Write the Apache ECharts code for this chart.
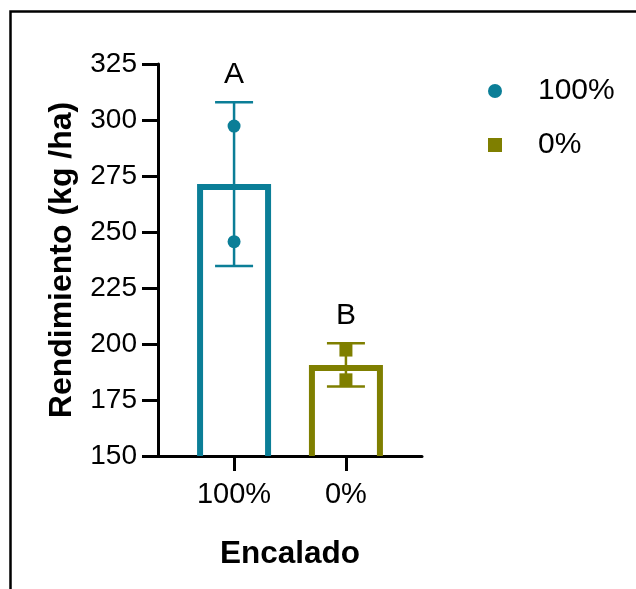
<!DOCTYPE html>
<html>
<head>
<meta charset="utf-8">
<script src="https://cdn.jsdelivr.net/npm/echarts@6/dist/echarts.min.js"></script>
<style>html,body{margin:0;padding:0;background:#fff;}#c{width:636px;height:589px;}</style>
</head>
<body>
<div id="c"></div>
<script>
// ---- data ----
const categories = ['100%', '0%'];
const means = [270.1, 189.3];
const errLow = [234.8, 181.0];
const errHigh = [307.9, 200.3];
const points100 = [297.3, 245.7];
const points0 = [197.3, 184.0];
const letters = ['A', 'B'];
const seriesNames = ['100%', '0%'];
const yMin = 150, yMax = 325, yStep = 25;

const colors = ['#0b7e97', '#7f7f00'];
const FONT = '"Liberation Sans", Arial, sans-serif';

const barData = categories.map((c, i) => [i, means[i], errLow[i], errHigh[i]]);

const chart = echarts.init(document.getElementById('c'), null, {renderer: 'canvas'});

const option = {
  animation: false,
  backgroundColor: '#fff',
  textStyle: {fontFamily: FONT},
  graphic: [{
    type: 'rect', silent: true, z: 100,
    shape: {x: 10.5, y: 11.5, width: 700, height: 700},
    style: {fill: 'none', stroke: '#000', lineWidth: 2.5}
  }],
  grid: {left: 158, right: 214, top: 64, bottom: 133, containLabel: false},
  legend: {
    orient: 'vertical', left: 483, top: 71,
    itemWidth: 14, itemHeight: 14, itemGap: 24,
    data: seriesNames,
    textStyle: {fontSize: 30, lineHeight: 30, color: '#000', fontFamily: FONT, padding: [0, 0, 0, 31]}
  },
  xAxis: {
    type: 'value', min: -0.68, max: 1.68,
    axisLine: {show: true, onZero: false, lineStyle: {color: '#000', width: 3}},
    axisTick: {show: true, length: 15, lineStyle: {color: '#000', width: 3}, customValues: [0, 1]},
    axisLabel: {show: true, fontSize: 29, color: '#000', margin: 24, fontFamily: FONT,
      customValues: [0, 1], formatter: v => categories[Math.round(v)] || ''},
    splitLine: {show: false},
    name: 'Encalado', nameLocation: 'middle', nameGap: 82,
    nameTextStyle: {fontSize: 31.5, fontWeight: 'bold', color: '#000', fontFamily: FONT}
  },
  yAxis: {
    type: 'value', min: yMin, max: yMax, interval: yStep,
    axisLine: {show: true, onZero: false, lineStyle: {color: '#000', width: 3}},
    axisTick: {show: true, length: 16, lineStyle: {color: '#000', width: 3}},
    axisLabel: {fontSize: 28, color: '#000', margin: 21, fontFamily: FONT},
    splitLine: {show: false},
    name: 'Rendimiento (kg /ha)', nameLocation: 'middle', nameGap: 80,
    nameTextStyle: {fontSize: 32, fontWeight: 'bold', color: '#000', fontFamily: FONT}
  },
  series: [
    {
      type: 'custom', name: 'bars', z: 1, clip: false,
      data: barData,
      renderItem: function (params, api) {
        const x = api.value(0);
        const top = api.coord([x, api.value(1)]);
        const base = api.coord([x, yMin]);
        const hw = 34;
        return {
          type: 'polyline',
          shape: {points: [[top[0] - hw, base[1]], [top[0] - hw, top[1]], [top[0] + hw, top[1]], [top[0] + hw, base[1]]]},
          style: {fill: 'none', stroke: colors[params.dataIndex], lineWidth: 6, lineJoin: 'miter'}
        };
      }
    },
    {
      type: 'custom', name: 'err', z: 3, clip: false,
      data: barData,
      renderItem: function (params, api) {
        const x = api.value(0);
        const lo = api.coord([x, api.value(2)]);
        const hi = api.coord([x, api.value(3)]);
        const cw = 19;
        const col = colors[params.dataIndex];
        return {
          type: 'group',
          children: [
            {type: 'line', shape: {x1: lo[0], y1: lo[1], x2: hi[0], y2: hi[1]}, style: {stroke: col, lineWidth: 2.5}},
            {type: 'line', shape: {x1: lo[0] - cw, y1: lo[1], x2: lo[0] + cw, y2: lo[1]}, style: {stroke: col, lineWidth: 2.5}},
            {type: 'line', shape: {x1: hi[0] - cw, y1: hi[1], x2: hi[0] + cw, y2: hi[1]}, style: {stroke: col, lineWidth: 2.5}},
            {type: 'text', x: hi[0], y: hi[1] - 28,
              style: {text: letters[params.dataIndex], fontSize: 30, fill: '#000', fontFamily: FONT, align: 'center', verticalAlign: 'middle'}}
          ]
        };
      }
    },
    {
      type: 'scatter', name: seriesNames[0], z: 5,
      symbol: 'circle', symbolSize: 13,
      itemStyle: {color: colors[0], opacity: 1},
      data: points100.map(v => [0, v])
    },
    {
      type: 'scatter', name: seriesNames[1], z: 5,
      symbol: 'rect', symbolSize: 13,
      itemStyle: {color: colors[1], opacity: 1},
      data: points0.map(v => [1, v])
    }
  ]
};
chart.setOption(option);
</script>
</body>
</html>
